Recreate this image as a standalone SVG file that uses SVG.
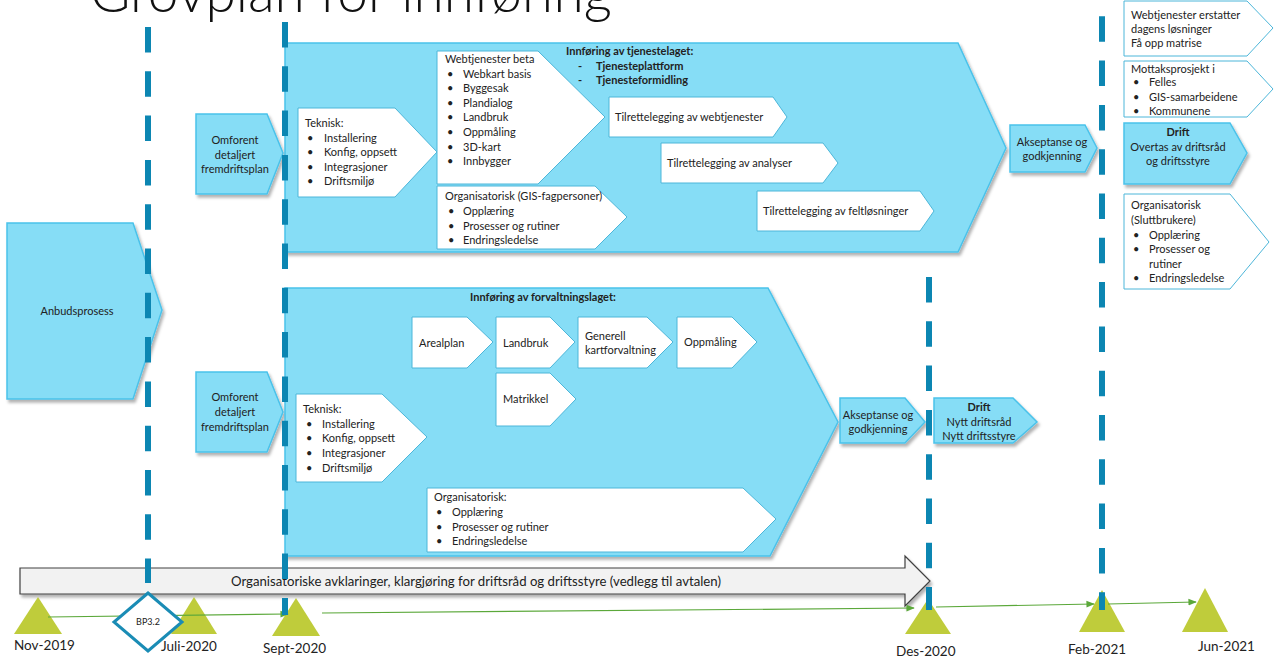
<svg xmlns="http://www.w3.org/2000/svg" width="1274" height="660" viewBox="0 0 1274 660">
<defs>
<filter id="sh" x="-10%" y="-10%" width="130%" height="130%"><feDropShadow dx="2" dy="3" stdDeviation="1.5" flood-color="#000" flood-opacity="0.3"/></filter>
<marker id="ga" viewBox="0 0 10 10" refX="9" refY="5" markerWidth="7" markerHeight="7" orient="auto"><path d="M0,1 L10,5 L0,9 z" fill="#5BA83A"/></marker>
<style>
.blue{fill:#86DDF6;stroke:#4AC2EA;stroke-width:1.5;filter:url(#sh)}
.white{fill:#fff;stroke:#4DB6D9;stroke-width:1}
.t{font-family:Lato,"Open Sans",sans-serif;font-size:11px;fill:#222}
.c{text-anchor:middle}
.b{font-weight:bold}
.dash{stroke:#0C86B2;stroke-width:6;stroke-dasharray:25.5 18.8;fill:none}
.tri{fill:#BFCC3B}
.lab{font-family:Lato,"Open Sans",sans-serif;font-size:13.5px;fill:#222}
.gl{stroke:#5BA83A;stroke-width:1.2;fill:none;marker-end:url(#ga)}
</style>
</defs>
<rect width="1274" height="660" fill="#fff"/>
<text x="90" y="12" font-family="Lato,'Open Sans',sans-serif" font-weight="300" font-size="55" fill="#111">Grovplan for innføring</text>

<g id="anbud"><polygon class="blue" points="7,223 133,223 162,310 133,399 7,399"/><text class="t c" x="77" y="315">Anbudsprosess</text></g>
<g id="omforent1"><polygon class="blue" points="196,114 267,114 283,153 267,194 196,194"/><text class="t c" x="235" y="144">Omforent</text><text class="t c" x="235" y="159">detaljert</text><text class="t c" x="235" y="173">fremdriftsplan</text></g>
<g id="omforent2"><polygon class="blue" points="196,372 267,372 283,412 267,452 196,452"/><text class="t c" x="235" y="401">Omforent</text><text class="t c" x="235" y="416">detaljert</text><text class="t c" x="235" y="431">fremdriftsplan</text></g>

<g id="tjenestelaget">
<polygon class="blue" points="285,43 958,43 1006,148 958,252 285,252"/>
<text class="t b" x="566" y="55">Innføring av tjenestelaget:</text>
<text class="t b" x="578" y="70">-</text><text class="t b" x="596" y="70">Tjenesteplattform</text>
<text class="t b" x="578" y="84">-</text><text class="t b" x="596" y="84">Tjenesteformidling</text>
</g>
<g id="teknisk1"><polygon class="white" points="298,108 395,108 437,152 395,197 298,197"/>
<text class="t" x="305" y="127">Teknisk:</text>
<text class="t" x="307" y="142">•</text><text class="t" x="324" y="142">Installering</text>
<text class="t" x="307" y="156">•</text><text class="t" x="324" y="156">Konfig, oppsett</text>
<text class="t" x="307" y="171">•</text><text class="t" x="324" y="171">Integrasjoner</text>
<text class="t" x="307" y="185">•</text><text class="t" x="324" y="185">Driftsmiljø</text></g>
<g id="webbeta"><polygon class="white" points="437,51 538,51 605,117 538,184 437,184"/>
<text class="t" x="445" y="63">Webtjenester beta</text>
<text class="t" x="447" y="78">•</text><text class="t" x="463" y="78">Webkart basis</text>
<text class="t" x="447" y="92">•</text><text class="t" x="463" y="92">Byggesak</text>
<text class="t" x="447" y="107">•</text><text class="t" x="463" y="107">Plandialog</text>
<text class="t" x="447" y="121">•</text><text class="t" x="463" y="121">Landbruk</text>
<text class="t" x="447" y="136">•</text><text class="t" x="463" y="136">Oppmåling</text>
<text class="t" x="447" y="151">•</text><text class="t" x="463" y="151">3D-kart</text>
<text class="t" x="447" y="165">•</text><text class="t" x="463" y="165">Innbygger</text></g>
<g id="orggis"><polygon class="white" points="437,186 595,186 627,217 595,249 437,249"/>
<text class="t" x="445" y="200">Organisatorisk (GIS-fagpersoner)</text>
<text class="t" x="448" y="215">•</text><text class="t" x="463" y="215">Opplæring</text>
<text class="t" x="448" y="230">•</text><text class="t" x="463" y="230">Prosesser og rutiner</text>
<text class="t" x="448" y="244">•</text><text class="t" x="463" y="244">Endringsledelse</text></g>
<g id="tilweb"><polygon class="white" points="609,97 773,97 787,117 773,137 609,137"/><text class="t" x="615" y="121">Tilrettelegging av webtjenester</text></g>
<g id="tilanalyse"><polygon class="white" points="661,143 823,143 838,163 823,183 661,183"/><text class="t" x="667" y="167">Tilrettelegging av analyser</text></g>
<g id="tilfelt"><polygon class="white" points="757,191 920,191 934,211 920,231 757,231"/><text class="t" x="763" y="215">Tilrettelegging av feltløsninger</text></g>
<g id="aksept1"><polygon class="blue" points="1010,125 1085,125 1097,148 1085,172 1010,172"/><text class="t c" x="1052" y="146">Akseptanse og</text><text class="t c" x="1052" y="160">godkjenning</text></g>

<g id="webersatt"><polygon class="white" points="1124,1 1247,1 1273,28 1247,56 1124,56"/>
<text class="t" x="1131" y="19">Webtjenester erstatter</text><text class="t" x="1131" y="33">dagens løsninger</text><text class="t" x="1131" y="47">Få opp matrise</text></g>
<g id="mottak"><polygon class="white" points="1124,61 1247,61 1273,89 1247,117 1124,117"/>
<text class="t" x="1131" y="73">Mottaksprosjekt i</text>
<text class="t" x="1133" y="86">•</text><text class="t" x="1149" y="86">Felles</text>
<text class="t" x="1133" y="101">•</text><text class="t" x="1149" y="101">GIS-samarbeidene</text>
<text class="t" x="1133" y="115">•</text><text class="t" x="1149" y="115">Kommunene</text></g>
<g id="drift1"><polygon class="blue" points="1124,123 1230,123 1247,153 1230,184 1124,184"/>
<text class="t c b" x="1178" y="136">Drift</text><text class="t c" x="1178" y="151">Overtas av driftsråd</text><text class="t c" x="1178" y="165">og driftsstyre</text></g>
<g id="orgslutt"><polygon class="white" points="1124,194 1230,194 1269,242 1230,289 1124,289"/>
<text class="t" x="1131" y="209">Organisatorisk</text><text class="t" x="1131" y="224">(Sluttbrukere)</text>
<text class="t" x="1133" y="239">•</text><text class="t" x="1149" y="239">Opplæring</text>
<text class="t" x="1133" y="253">•</text><text class="t" x="1149" y="253">Prosesser og</text>
<text class="t" x="1149" y="268">rutiner</text>
<text class="t" x="1133" y="282">•</text><text class="t" x="1149" y="282">Endringsledelse</text></g>

<g id="forvaltningslaget"><polygon class="blue" points="285,288 768,288 838,422 770,556 285,556"/>
<text class="t c b" x="543" y="301">Innføring av forvaltningslaget:</text></g>
<g id="arealplan"><polygon class="white" points="412,317 467,317 493,342 467,368 412,368"/><text class="t" x="419" y="347">Arealplan</text></g>
<g id="landbruk"><polygon class="white" points="496,317 550,317 575,342 550,368 496,368"/><text class="t" x="503" y="347">Landbruk</text></g>
<g id="generell"><polygon class="white" points="578,317 647,317 673,342 647,368 578,368"/><text class="t" x="585" y="340">Generell</text><text class="t" x="585" y="354">kartforvaltning</text></g>
<g id="oppmaling"><polygon class="white" points="677,317 732,317 757,342 732,368 677,368"/><text class="t" x="684" y="346">Oppmåling</text></g>
<g id="matrikkel"><polygon class="white" points="496,373 550,373 576,399 550,426 496,426"/><text class="t" x="503" y="403">Matrikkel</text></g>
<g id="teknisk2"><polygon class="white" points="296,394 382,394 427,437 382,482 296,482"/>
<text class="t" x="303" y="413">Teknisk:</text>
<text class="t" x="306" y="428">•</text><text class="t" x="322" y="428">Installering</text>
<text class="t" x="306" y="442">•</text><text class="t" x="322" y="442">Konfig, oppsett</text>
<text class="t" x="306" y="457">•</text><text class="t" x="322" y="457">Integrasjoner</text>
<text class="t" x="306" y="472">•</text><text class="t" x="322" y="472">Driftsmiljø</text></g>
<g id="org2"><polygon class="white" points="427,488 743,488 776,519 743,552 427,552"/>
<text class="t" x="434" y="501">Organisatorisk:</text>
<text class="t" x="436" y="516">•</text><text class="t" x="452" y="516">Opplæring</text>
<text class="t" x="436" y="531">•</text><text class="t" x="452" y="531">Prosesser og rutiner</text>
<text class="t" x="436" y="545">•</text><text class="t" x="452" y="545">Endringsledelse</text></g>
<g id="aksept2"><polygon class="blue" points="840,398 905,398 925,422 905,443 840,443"/><text class="t c" x="878" y="419">Akseptanse og</text><text class="t c" x="878" y="433">godkjenning</text></g>
<g id="drift2"><polygon class="blue" points="934,398 1013,398 1037,422 1013,443 934,443"/>
<text class="t c b" x="979" y="411">Drift</text><text class="t c" x="979" y="426">Nytt driftsråd</text><text class="t c" x="979" y="440">Nytt driftsstyre</text></g>

<g id="avklaringer"><polygon points="20,568 905,568 905,556 930,581 905,606 905,594 20,594" fill="#F2F2F2" stroke="#404040" stroke-width="1.2" filter="url(#sh)"/>
<text class="t c" x="476" y="586" style="font-size:13.2px">Organisatoriske avklaringer, klargjøring for driftsråd og driftsstyre (vedlegg til avtalen)</text></g>

<g id="milestones">
<polygon class="tri" points="38,597 14,634 62,634"/>
<polygon class="tri" points="194,597 171,634 217,634"/>
<polygon class="tri" points="296,598 272,636 320,636"/>
<polygon class="tri" points="928,599 905,634 951,634"/>
<polygon class="tri" points="1102,590 1079,632 1125,632"/>
<polygon class="tri" points="1205,588 1182,632 1228,632"/>
<text class="lab" x="14" y="650">Nov-2019</text>
<text class="lab" x="161" y="651">Juli-2020</text>
<text class="lab" x="263" y="653">Sept-2020</text>
<text class="lab" x="896" y="656">Des-2020</text>
<text class="lab" x="1068" y="654">Feb-2021</text>
<text class="lab" x="1198" y="651">Jun-2021</text>
</g>

<g id="connectors">
<line class="gl" x1="48" y1="617" x2="288" y2="614"/>
<line class="gl" x1="322" y1="613" x2="914" y2="608"/>
<line class="gl" x1="936" y1="607" x2="1094" y2="604"/>
<line class="gl" x1="1108" y1="604" x2="1196" y2="602"/>
</g>

<g id="bp32"><polygon points="148,593 182,622 148,651 114,622" fill="#fff" stroke="#1A8CB5" stroke-width="3"/><text class="t c" x="148" y="625" style="font-size:9px">BP3.2</text></g>

<g id="milestone-lines">
<line class="dash" x1="148" y1="27" x2="148" y2="583"/>
<line class="dash" x1="285" y1="22" x2="285" y2="615"/>
<line class="dash" x1="929" y1="277" x2="929" y2="610"/>
<line class="dash" x1="1102" y1="-28" x2="1102" y2="610"/>
</g>
</svg>
